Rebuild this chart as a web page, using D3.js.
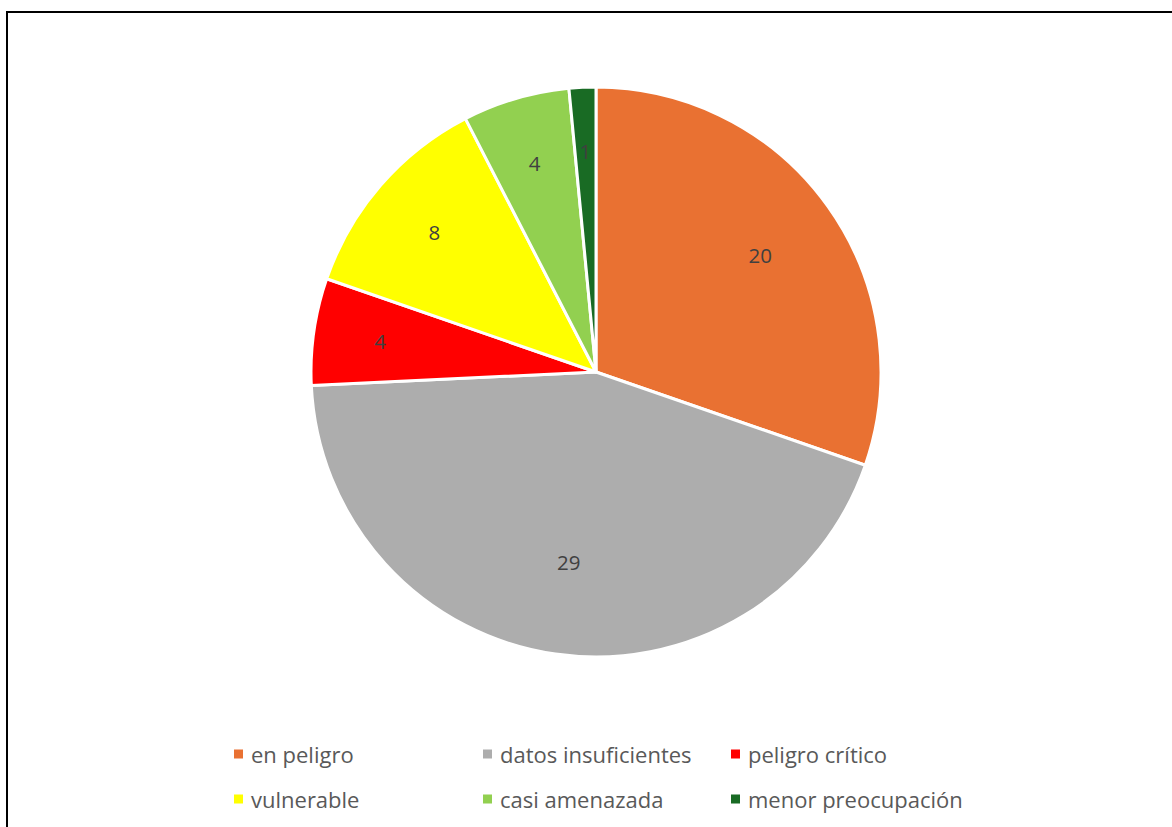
<!DOCTYPE html>
<html>
<head>
<meta charset="utf-8">
<script src="https://cdn.jsdelivr.net/npm/d3@7"></script>
<style>
  html, body { margin: 0; padding: 0; background: #fff; }
  svg { display: block; }
</style>
</head>
<body>
<svg id="chart" width="1172" height="827"></svg>
<script>
// Conservation status counts
const categories = ["en peligro", "datos insuficientes", "peligro crítico", "vulnerable", "casi amenazada", "menor preocupación"];
const counts = [20, 29, 4, 8, 4, 1];
const colors = ["#E97132", "#ADADAD", "#FF0000", "#FFFF00", "#92D050", "#196B24"];

const W = 1172, H = 827;
const svg = d3.select("#chart");
const font = "'Open Sans', 'Noto Sans', sans-serif";

// outer frame (left and top edges visible)
svg.append("rect")
  .attr("x", 7).attr("y", 12)
  .attr("width", W + 10).attr("height", H + 10)
  .attr("fill", "#fff").attr("stroke", "#000").attr("stroke-width", 2);

const cx = 596, cy = 372, R = 285;
const data = categories.map((c, i) => ({ name: c, value: counts[i], color: colors[i] }));

const pie = d3.pie().value(d => d.value).sort(null);
const arc = d3.arc().innerRadius(0).outerRadius(R);
// small slices get their labels pushed a little further out
const labelRadius = d => R * (0.78 - 0.12 * (d.endAngle - d.startAngle) / Math.PI);

const g = svg.append("g").attr("transform", `translate(${cx},${cy})`);
const arcs = pie(data);

g.selectAll("path.slice")
  .data(arcs)
  .join("path")
  .attr("class", "slice")
  .attr("d", arc)
  .attr("fill", d => d.data.color)
  .attr("stroke", "#fff")
  .attr("stroke-width", 3)
  .attr("stroke-linejoin", "round");

g.selectAll("text.val")
  .data(arcs)
  .join("text")
  .attr("class", "val")
  .attr("transform", d => {
    const r = labelRadius(d);
    const c = d3.arc().innerRadius(r).outerRadius(r).centroid(d);
    return `translate(${c})`;
  })
  .attr("text-anchor", "middle")
  .attr("dominant-baseline", "central")
  .attr("font-family", font)
  .attr("font-size", 20.5)
  .attr("fill", "#404040")
  .text(d => d.data.value);

// legend: three columns, two rows
const colX = [234, 483, 731];
const rowY = [754, 799];
const leg = svg.append("g");
data.forEach((d, i) => {
  const x = colX[i % 3], y = rowY[Math.floor(i / 3)];
  leg.append("rect")
    .attr("x", x).attr("y", y - 4.5)
    .attr("width", 9).attr("height", 9)
    .attr("fill", d.color);
  leg.append("text")
    .attr("x", x + 17).attr("y", y)
    .attr("dominant-baseline", "central")
    .attr("font-family", font)
    .attr("font-size", 22)
    .attr("fill", "#595959")
    .text(d.name);
});
</script>
</body>
</html>
